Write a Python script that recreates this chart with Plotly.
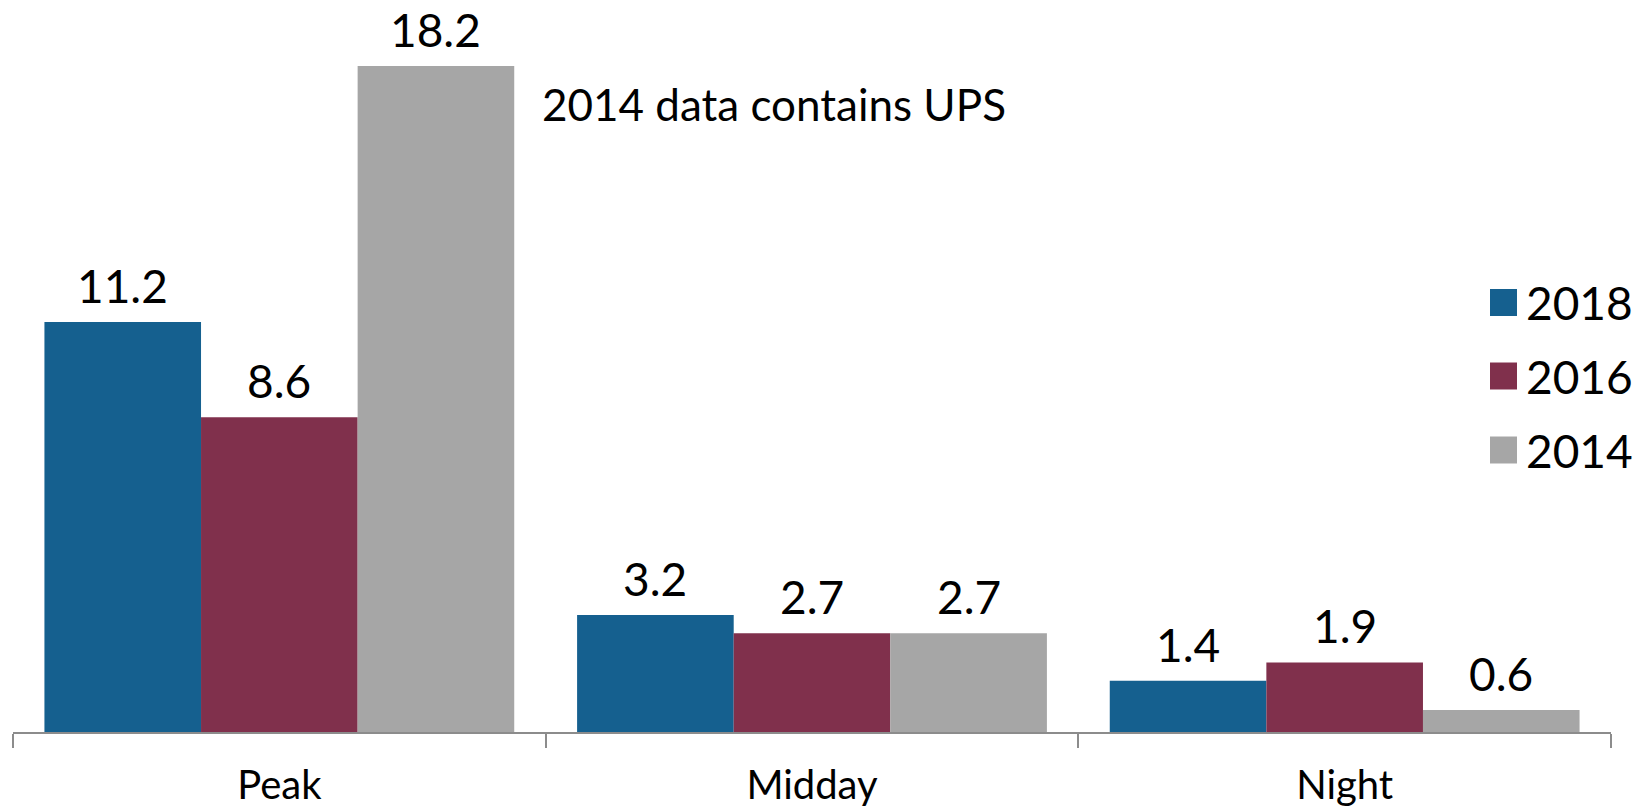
import plotly.graph_objects as go

categories = ["Peak", "Midday", "Night"]
series_names = ["2018", "2016", "2014"]
values_2018 = [11.2, 3.2, 1.4]
values_2016 = [8.6, 2.7, 1.9]
values_2014 = [18.2, 2.7, 0.6]
series_values = [values_2018, values_2016, values_2014]
colors = ["#15608F", "#80304C", "#A6A6A6"]
note_text = "2014 data contains UPS"

W, H = 1641, 807
ML, MR, MT, MB = 13, 30, 0, 75
BARGAP = 0.118
FONT = "Lato, 'Open Sans', sans-serif"
LABEL_SIZE = 46
NOTE_SIZE = 44
CAT_SIZE = 40

plot_w = W - ML - MR
plot_h = H - MT - MB
bar_px = plot_w / len(categories) * (1 - BARGAP) / len(series_names)

fig = go.Figure()
for name, vals, col in zip(series_names, series_values, colors):
    fig.add_trace(go.Bar(x=categories, y=vals, name=name, marker=dict(color=col, line=dict(width=0)),
                         showlegend=False))

annotations = []
n = len(series_names)
for i, vals in enumerate(series_values):
    for cat, v in zip(categories, vals):
        annotations.append(dict(x=cat, y=v, xref="x", yref="y", text=f"{v}", showarrow=False,
                                xshift=(i - (n - 1) / 2) * bar_px, yshift=8, yanchor="bottom",
                                borderpad=0,
                                font=dict(family=FONT, size=LABEL_SIZE, color="black")))

annotations.append(dict(x=(540 - ML) / plot_w, y=(plot_h - 104) / plot_h, xref="paper", yref="paper",
                        text=note_text, showarrow=False, xanchor="left", yanchor="middle",
                        font=dict(family=FONT, size=NOTE_SIZE, color="black")))

# manual legend
shapes = []
row_y = [302.5, 376, 450]
sq = 27
for name, col, ry in zip(series_names, colors, row_y):
    y0 = (plot_h - (ry + sq / 2)) / plot_h
    y1 = (plot_h - (ry - sq / 2)) / plot_h
    shapes.append(dict(type="rect", xref="paper", yref="paper",
                       x0=(1490 - ML) / plot_w, x1=(1490 + sq - ML) / plot_w, y0=y0, y1=y1,
                       fillcolor=col, line=dict(width=0)))
    annotations.append(dict(x=(1524 - ML) / plot_w, y=(plot_h - ry) / plot_h, xref="paper", yref="paper",
                            text=name, showarrow=False, xanchor="left", yanchor="middle",
                            font=dict(family=FONT, size=LABEL_SIZE, color="black")))

fig.update_layout(
    width=W, height=H,
    margin=dict(l=ML, r=MR, t=MT, b=MB, pad=0),
    barmode="group", bargap=BARGAP, bargroupgap=0,
    plot_bgcolor="white", paper_bgcolor="white",
    annotations=annotations, shapes=shapes,
    showlegend=False,
    font=dict(family=FONT, color="black"),
)
fig.update_xaxes(type="category", tickson="boundaries", ticks="outside", ticklen=14, tickwidth=1.5,
                 tickcolor="#8C8C8C", showline=True, linecolor="#8C8C8C", linewidth=1.5,
                 showgrid=False, ticklabelstandoff=17,
                 tickfont=dict(family=FONT, size=CAT_SIZE, color="black"))
fig.update_yaxes(range=[0, 20], visible=False, showgrid=False, zeroline=False)

fig.write_html("out.html", config={"displayModeBar": False},
               post_script="document.body.style.margin='0px';document.body.style.overflow='hidden';")
